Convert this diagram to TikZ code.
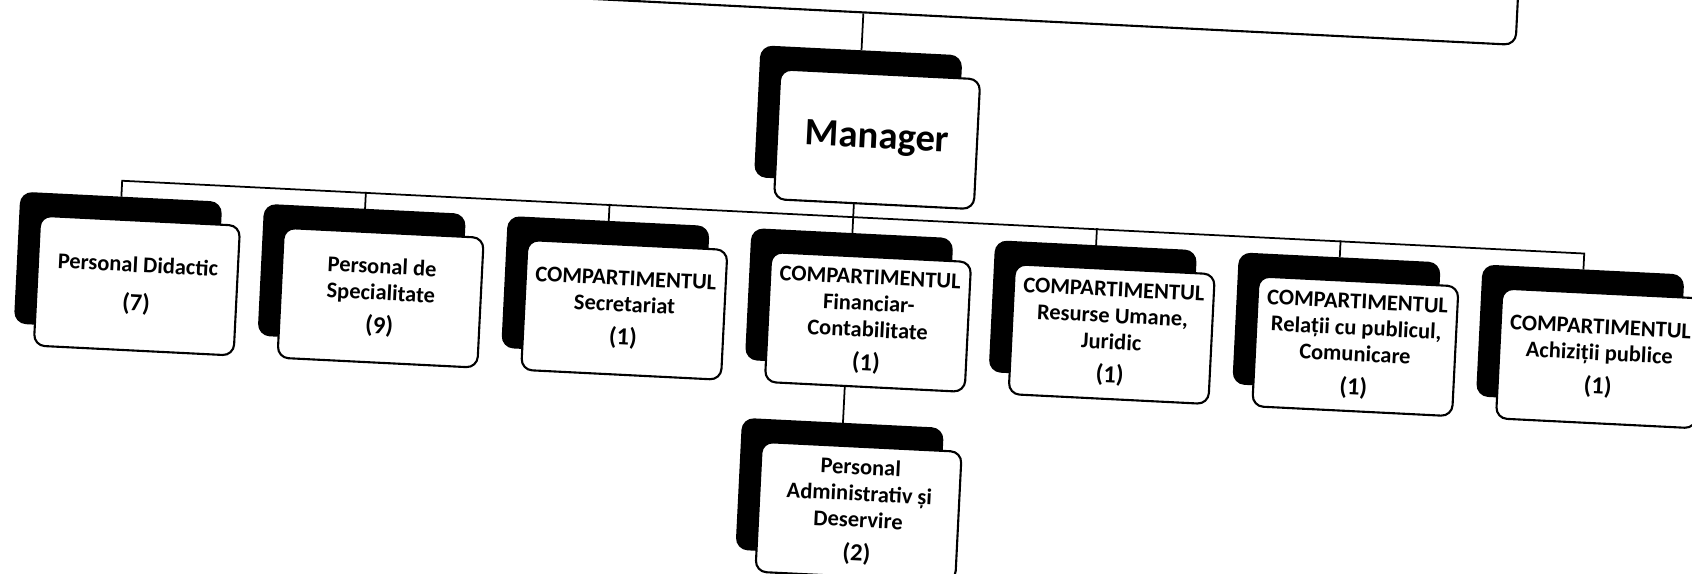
\documentclass[tikz,border=0pt]{standalone}
\usepackage{fontspec}
\setmainfont{Carlito}
\newcommand{\headcount}[1]{{\fontsize{14}{16}\selectfont #1}}
\tikzset{
  backcard/.style={draw=black, fill=black, rounded corners=0.22cm, minimum width=4.0cm, minimum height=2.6cm, line width=1.2pt},
  card/.style={draw=black, fill=white, rounded corners=0.22cm, minimum width=4.0cm, minimum height=2.6cm, line width=1.2pt,
               inner sep=0pt, align=center, font=\bfseries\fontsize{12.8}{15}\selectfont},
  link/.style={draw=black, line width=1pt}
}

\begin{document}
\begin{tikzpicture}
  \useasboundingbox (0,0) rectangle (33.84,-11.46);
  \fill[white] (0,0) rectangle (33.84,-11.46);
  \clip (0,0) rectangle (33.84,-11.46);
  \begin{scope}[shift={(17.36,-6.44)}, rotate=-2.85, transform shape]
    \node[card, minimum width=26.12cm, minimum height=5cm] (board) at ( -0.40,  8.68) {};

    \node[backcard] (manS)  at ( -0.40,  4.10) {};
    \node[backcard] (didS)  at (-15.04,  0.44) {};
    \node[backcard] (specS) at (-10.16,  0.44) {};
    \node[backcard] (secS)  at ( -5.28,  0.44) {};
    \node[backcard] (finS)  at ( -0.40,  0.44) {};
    \node[backcard] (resS)  at (  4.48,  0.44) {};
    \node[backcard] (relS)  at (  9.36,  0.44) {};
    \node[backcard] (achS)  at ( 14.24,  0.44) {};
    \node[backcard] (admS)  at ( -0.40, -3.36) {};

    \coordinate (barL) at (-15.04, 2.08);
    \coordinate (barR) at ( 14.24, 2.08);
    \draw[link] (manS.north) -- (board.south);
    \draw[link] (manS.center) -- (finS.north);
    \draw[link] (didS.north) -- (barL) -- (barR) -- (achS.north);
    \draw[link] (specS.north) -- ++(0,0.34);
    \draw[link] (secS.north)  -- ++(0,0.34);
    \draw[link] (resS.north)  -- ++(0,0.34);
    \draw[link] (relS.north)  -- ++(0,0.34);
    \draw[link] (finS.center) -- (admS.north);

    \node[card, font=\bfseries\fontsize{22}{26}\selectfont] (man) at (  0.00,  3.66) {Manager};
    \node[card] (did)  at (-14.64,  0.00) {Personal Didactic\\[7pt]\headcount{(7)}};
    \node[card] (spec) at ( -9.76,  0.00) {Personal de\\Specialitate\\[4pt]\headcount{(9)}};
    \node[card] (sec)  at ( -4.88,  0.00) {COMPARTIMENTUL\\Secretariat\\[4pt]\headcount{(1)}};
    \node[card] (fin)  at (  0.00,  0.00) {COMPARTIMENTUL\\Financiar-\\Contabilitate\\[4pt]\headcount{(1)}};
    \node[card] (res)  at (  4.88,  0.00) {COMPARTIMENTUL\\Resurse Umane,\\Juridic\\[4pt]\headcount{(1)}};
    \node[card] (rel)  at (  9.76,  0.00) {COMPARTIMENTUL\\Relații cu publicul,\\Comunicare\\[4pt]\headcount{(1)}};
    \node[card] (ach)  at ( 14.64,  0.00) {COMPARTIMENTUL\\Achiziții publice\\[4pt]\headcount{(1)}};
    \node[card] (adm)  at (  0.00, -3.80) {Personal\\Administrativ și\\Deservire\\[4pt]\headcount{(2)}};
  \end{scope}
\end{tikzpicture}
\end{document}
